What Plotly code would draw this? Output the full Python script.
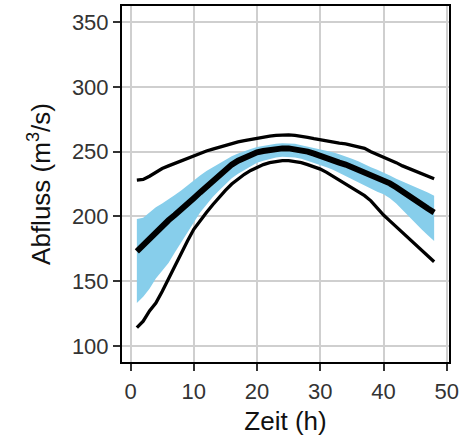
import plotly.graph_objects as go

hours = list(range(1, 49))

q_max = [228, 228.5, 231, 234, 237, 239, 241, 243, 245, 247, 249, 250.5, 252, 253.5, 255, 256,
         257.5, 258.5, 259.5, 260.5, 261.5, 262, 262.5, 263, 263, 262.5, 262, 261, 260, 259, 258, 257.5,
         256.5, 256, 255, 254, 252.5, 250, 248, 245.5, 243.5, 241.5, 239, 237, 235, 233, 231, 229]

q_median = [173, 178, 183.5, 188.5, 193, 197, 201, 205, 209.5, 214, 218.5, 223, 227.5, 232, 236, 240,
            243, 245.5, 247.5, 249.5, 250.5, 251.5, 252, 252.5, 252.5, 252, 251, 250, 248.5, 246.5, 245, 243.5,
            241.5, 240, 238, 236, 234.5, 232.5, 230.5, 228.5, 225.5, 222.5, 219, 215.5, 212, 209, 206, 203]

q_min = [114, 119, 127, 133, 142, 152, 162, 171, 181, 190, 197, 203, 209, 215, 220, 225,
         229, 232.5, 235.5, 238, 240, 241.5, 242.5, 243, 243, 242.5, 241.5, 240, 238.5, 236.5, 234, 231,
         228, 225, 222, 219, 216, 212, 206.5, 201, 196.5, 192, 187.5, 183, 178.5, 174, 169.5, 165]

band_upper = [198, 199, 203, 207, 210, 213, 216.5, 220, 224, 228, 231.5, 235, 238, 241, 244, 246.5,
              248.5, 250.5, 252, 253.5, 254.5, 255.5, 256, 256.5, 256.5, 256, 255, 254, 253, 252, 251, 249.5,
              248, 246.5, 244.5, 242.5, 240, 238, 236, 234, 231.5, 229, 227, 225, 223, 221, 218.5, 216]

band_lower = [133, 138, 144, 152, 158, 164, 172, 180, 188, 196, 203, 209, 215, 220, 225, 229.5,
              233, 236, 239, 241.5, 243, 244.5, 245.5, 246, 246, 245.5, 244.5, 243, 241.5, 240, 238, 236,
              233.5, 231, 228.5, 226, 223.5, 221, 219, 217, 214, 210, 205, 199.5, 195, 190, 185.5, 181]

x_ticks = [0, 10, 20, 30, 40, 50]
y_ticks = [100, 150, 200, 250, 300, 350]

FONT = "Arial, Liberation Sans, sans-serif"

fig = go.Figure()
fig.add_trace(go.Scatter(x=hours, y=band_lower, mode="lines", line=dict(width=0, color="#87CEEB"),
                         showlegend=False, hoverinfo="skip"))
fig.add_trace(go.Scatter(x=hours, y=band_upper, mode="lines", line=dict(width=0, color="#87CEEB"),
                         fill="tonexty", fillcolor="#87CEEB", showlegend=False))
fig.add_trace(go.Scatter(x=hours, y=q_max, mode="lines", line=dict(width=3.3, color="black"), showlegend=False))
fig.add_trace(go.Scatter(x=hours, y=q_min, mode="lines", line=dict(width=3.3, color="black"), showlegend=False))
fig.add_trace(go.Scatter(x=hours, y=q_median, mode="lines", line=dict(width=6, color="black"), showlegend=False))

axis_common = dict(
    showline=True, linecolor="black", linewidth=2, mirror=True,
    showgrid=True, gridcolor="#cfcfcf", gridwidth=1.5,
    ticks="outside", ticklen=7, tickwidth=1.5, tickcolor="#333333",
    tickfont=dict(family=FONT, size=22, color="#333333"),
    zeroline=False, automargin=False,
)

fig.update_layout(
    width=460, height=436,
    margin=dict(l=122, r=11, t=6, b=74),
    paper_bgcolor="white", plot_bgcolor="white",
    xaxis=dict(range=[-1.35, 50.35], tickvals=x_ticks, ticklabelstandoff=2,
               title=dict(text="Zeit (h)", font=dict(family=FONT, size=26, color="#111111"), standoff=11),
               **axis_common),
    yaxis=dict(range=[87.5, 362.5], tickvals=y_ticks,
               title=dict(text="Abfluss (m<sup>3</sup>/s)", font=dict(family=FONT, size=26, color="#111111"), standoff=14),
               **axis_common),
)

fig.write_html("out.html", config={"displayModeBar": False},
               post_script="document.body.style.margin='0px';")
